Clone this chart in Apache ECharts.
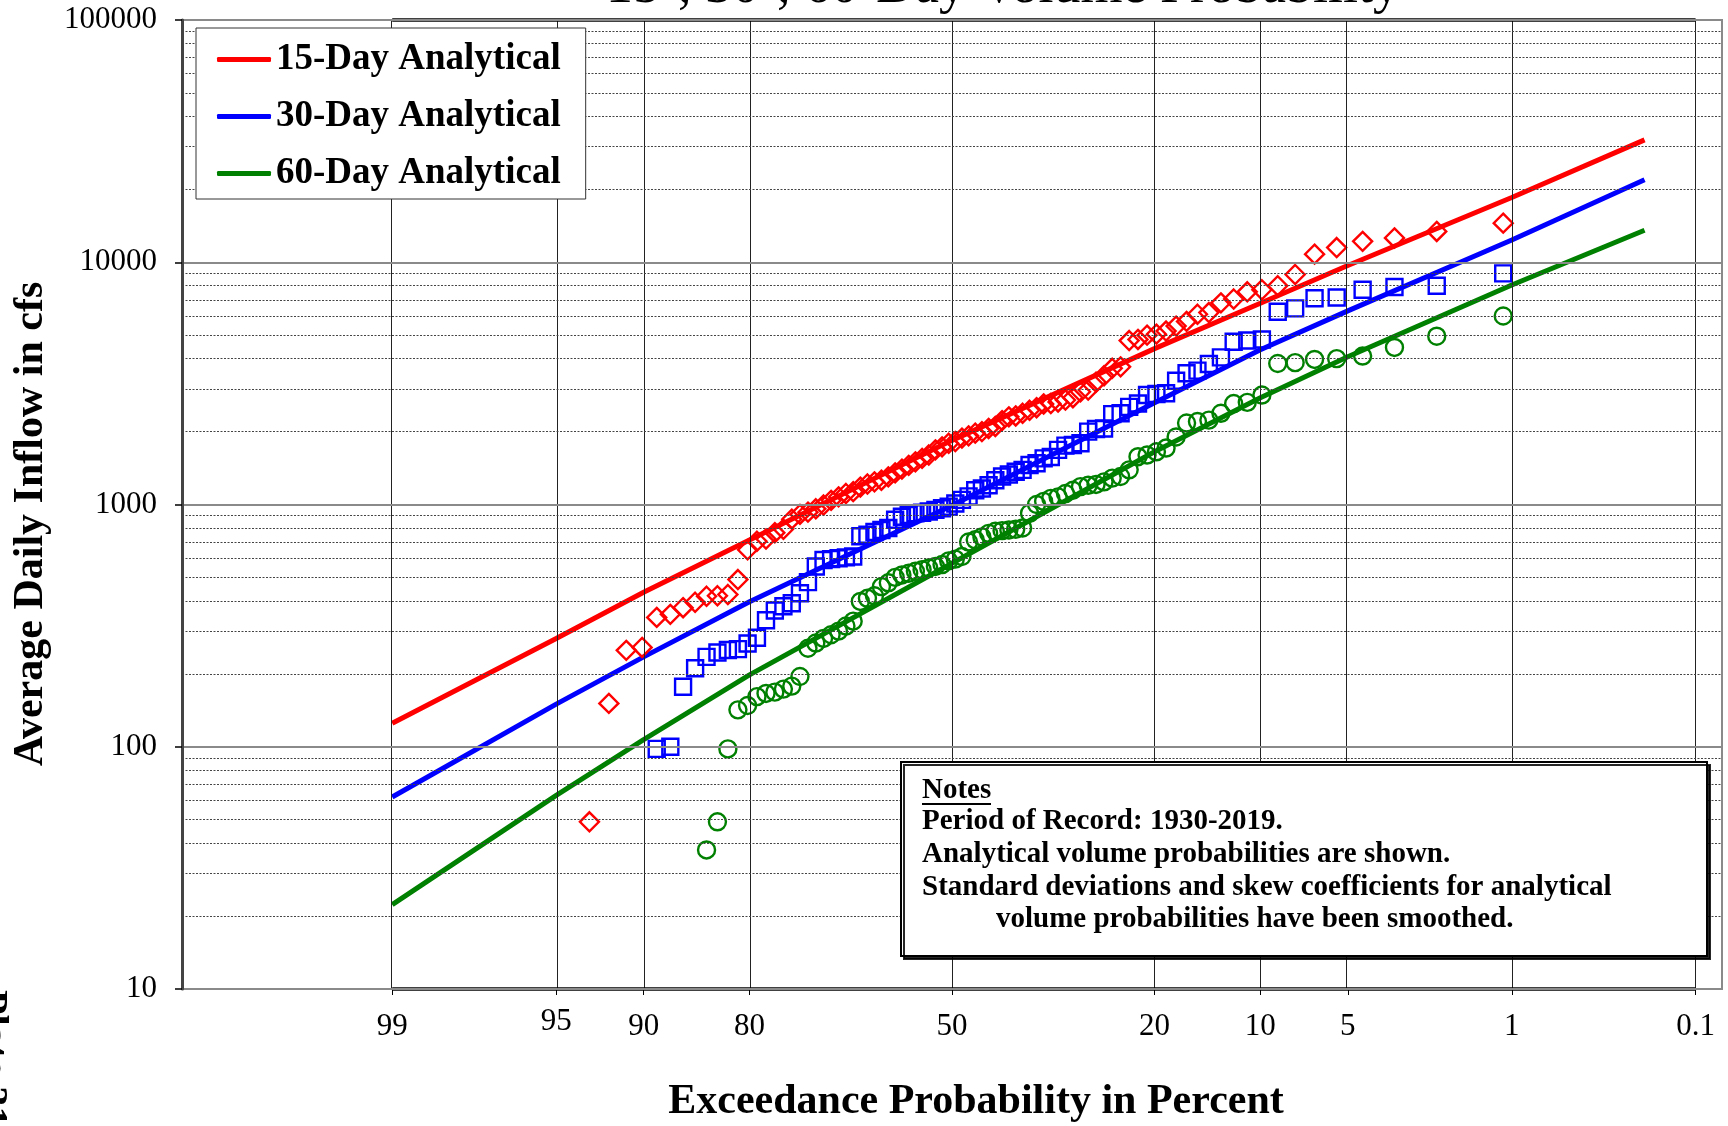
<!DOCTYPE html>
<html>
<head>
<meta charset="utf-8">
<script src="https://cdn.jsdelivr.net/npm/echarts@6/dist/echarts.min.js"></script>
<style>
html,body{margin:0;padding:0;background:#fff;}
#chart{width:1728px;height:1126px;}
</style>
</head>
<body>
<div id="chart"></div>
<script>
// ---------------- data ----------------
const titleText = '15-, 30-, 60-Day Volume Probability';
const xTitle = 'Exceedance Probability in Percent';
const yTitle = 'Average Daily Inflow in cfs';
const plateText = 'Plate 31';
const seriesNames = ['15-Day Analytical', '30-Day Analytical', '60-Day Analytical'];

// x tick labels (exceedance probability, percent)
const tickProbs = [99, 95, 90, 80, 50, 20, 10, 5, 1, 0.1];
const tickLabels = ['99', '95', '90', '80', '50', '20', '10', '5', '1', '0.1'];
// minor horizontal grid values
const minorGridValues = [20, 30, 40, 50, 60, 70, 80, 90, 200, 300, 400, 500, 600, 700, 800, 900,
  2000, 3000, 4000, 5000, 6000, 7000, 8000, 9000, 20000, 30000, 40000, 50000, 60000, 70000, 80000, 90000];

// period of record 1930-2019 -> 90 years (Weibull plotting positions m/(n+1))
const recordYears = 90;

// analytical frequency curves
const analyticProbs = [99, 95, 90, 80, 50, 20, 10, 5, 1, 0.2];
const analytic15 = [125, 280, 434, 714, 1840, 4400, 6770, 9700, 18500, 32000];
const analytic30 = [62, 150, 235, 397, 990, 2630, 4350, 6300, 12350, 21900];
const analytic60 = [22.3, 63, 107, 198, 572, 1650, 2760, 4070, 8060, 13550];

// observed volumes, ranked largest first (values below 10 cfs are off the chart)
const flow15 = [14500, 13400, 12600, 12200, 11500, 10800, 8900, 8000, 7700, 7550,
  7050, 6800, 6200, 6100, 5700, 5450, 5200, 5050, 5000, 4800,
  4750, 3700, 3650, 3400, 3200, 2970, 2920, 2760, 2700, 2650,
  2610, 2600, 2510, 2450, 2380, 2320, 2300, 2220, 2100, 2060,
  2000, 1970, 1920, 1880, 1820, 1790, 1730, 1680, 1600, 1550,
  1500, 1450, 1400, 1350, 1300, 1260, 1240, 1215, 1180, 1130,
  1110, 1075, 1040, 995, 960, 930, 910, 870, 790, 765,
  720, 705, 650, 490, 425, 420, 418, 395, 375, 352,
  342, 257, 250, 151, 49];
const flow30 = [9000, 8000, 7900, 7700, 7150, 7100, 6450, 6250, 4800, 4750,
  4700, 4050, 3800, 3570, 3480, 3240, 2880, 2860, 2830, 2610,
  2530, 2380, 2360, 2060, 2050, 2000, 1790, 1760, 1750, 1680,
  1570, 1550, 1480, 1455, 1390, 1365, 1330, 1305, 1260, 1200,
  1165, 1145, 1080, 1045, 1010, 980, 965, 950, 935, 925,
  920, 905, 890, 865, 800, 785, 770, 750, 740, 610,
  605, 600, 595, 590, 555, 478, 430, 391, 380, 365,
  333, 282, 267, 253, 251, 245, 235, 211, 177, 100,
  98];
const flow60 = [6000, 4950, 4450, 4100, 4000, 3970, 3850, 3820, 2830, 2640,
  2610, 2380, 2230, 2200, 2170, 1900, 1710, 1650, 1600, 1575,
  1390, 1305, 1285, 1240, 1210, 1200, 1185, 1145, 1110, 1075,
  1060, 1030, 1000, 920, 800, 790, 785, 780, 775, 760,
  735, 715, 700, 610, 595, 585, 565, 555, 547, 538,
  530, 520, 512, 500, 475, 458, 420, 410, 398, 330,
  315, 300, 290, 280, 268, 255, 195, 178, 173, 168,
  166, 161, 148, 142, 98, 49, 37.5];

const noteLines = [
  'Period of Record: 1930-2019.',
  'Analytical volume probabilities are shown.',
  'Standard deviations and skew coefficients for analytical'
];
const noteIndented = 'volume probabilities have been smoothed.';

// ---------------- helpers ----------------
function qnorm(p) {
  const a = [-3.969683028665376e+01, 2.209460984245205e+02, -2.759285104469687e+02, 1.383577518672690e+02, -3.066479806614716e+01, 2.506628277459239e+00];
  const b = [-5.447609879822406e+01, 1.615858368580409e+02, -1.556989798598866e+02, 6.680131188771972e+01, -1.328068155288572e+01];
  const c = [-7.784894002430293e-03, -3.223964580411365e-01, -2.400758277161838e+00, -2.549732539343734e+00, 4.374664141464968e+00, 2.938163982698783e+00];
  const d = [7.784695709041462e-03, 3.224671290700398e-01, 2.445134137142996e+00, 3.754408661907416e+00];
  const pl = 0.02425, ph = 1 - pl;
  let q, r;
  if (p < pl) {
    q = Math.sqrt(-2 * Math.log(p));
    return (((((c[0] * q + c[1]) * q + c[2]) * q + c[3]) * q + c[4]) * q + c[5]) / ((((d[0] * q + d[1]) * q + d[2]) * q + d[3]) * q + 1);
  }
  if (p <= ph) {
    q = p - 0.5; r = q * q;
    return (((((a[0] * r + a[1]) * r + a[2]) * r + a[3]) * r + a[4]) * r + a[5]) * q / (((((b[0] * r + b[1]) * r + b[2]) * r + b[3]) * r + b[4]) * r + 1);
  }
  q = Math.sqrt(-2 * Math.log(1 - p));
  return -(((((c[0] * q + c[1]) * q + c[2]) * q + c[3]) * q + c[4]) * q + c[5]) / ((((d[0] * q + d[1]) * q + d[2]) * q + d[3]) * q + 1);
}
// exceedance percent -> standard normal variate (probability-paper coordinate)
const zx = (pct) => qnorm(1 - pct / 100);
const tickZ = tickProbs.map(zx);
const rankPoints = (arr) => arr.map((v, i) => [zx(100 * (i + 1) / (recordYears + 1)), v]);
const curvePoints = (arr) => analyticProbs.map((p, i) => [zx(p), arr[i]]);

const SERIF = '"Liberation Serif", "Times New Roman", serif';
const colors = ['#ff0000', '#0000ff', '#008000'];

const chart = echarts.init(document.getElementById('chart'), null, {renderer: 'canvas'});

const lineSeries = [analytic15, analytic30, analytic60].map((arr, k) => ({
  name: seriesNames[k],
  type: 'line',
  data: curvePoints(arr),
  symbol: 'none',
  showSymbol: false,
  smooth: false,
  color: colors[k],
  lineStyle: {color: colors[k], width: 5},
  z: 3,
  silent: true
}));

const scatterStyles = [
  {symbol: 'diamond', size: 19},
  {symbol: 'rect', size: 16},
  {symbol: 'circle', size: 17}
];
const scatterSeries = [flow15, flow30, flow60].map((arr, k) => ({
  name: seriesNames[k] + ' observed',
  type: 'scatter',
  data: rankPoints(arr),
  symbol: scatterStyles[k].symbol,
  symbolSize: scatterStyles[k].size,
  itemStyle: {color: 'rgba(0,0,0,0)', borderColor: colors[k], borderWidth: 2.4, opacity: 1},
  z: 4,
  silent: true
}));

const gridSeries = {
  name: 'grid',
  type: 'line',
  data: [],
  z: 1,
  silent: true,
  markLine: {
    silent: true,
    symbol: ['none', 'none'],
    label: {show: false},
    animation: false,
    data: tickZ.map(z => ({xAxis: z, lineStyle: {color: '#222', width: 1, type: 'solid'}}))
      .concat(minorGridValues.map(v => ({yAxis: v, lineStyle: {color: '#444', width: 1, type: [2, 1.5]}})))
  }
};

const frameSeries = [10, 100000].map(v => ({
  name: 'frame' + v,
  type: 'line',
  data: [[zx(99), v], [zx(0.1), v]],
  symbol: 'none',
  clip: false,
  lineStyle: {color: '#000', width: 3.5},
  z: 6,
  silent: true
}));

const option = {
  backgroundColor: '#fff',
  animation: false,
  grid: {left: 182, right: 6, top: 20, bottom: 137, show: true, borderColor: '#8a8a8a', borderWidth: 2, backgroundColor: '#fff'},
  xAxis: {
    type: 'value', min: -3.2, max: 3.2,
    axisLine: {show: false, onZero: false},
    splitLine: {show: false},
    axisTick: {show: true, customValues: tickZ, length: 6, lineStyle: {color: '#000', width: 1}},
    axisLabel: {
      customValues: tickZ,
      margin: 17,
      formatter: function (v) {
        let idx = 0, best = 1e9;
        tickZ.forEach((t, i) => { const d = Math.abs(t - v); if (d < best) { best = d; idx = i; } });
        const lab = tickLabels[idx];
        return lab === '95' ? '{up|' + lab + '}' : '{n|' + lab + '}';
      },
      rich: {
        n: {fontFamily: SERIF, fontSize: 31, color: '#000', padding: [5, 0, 0, 0]},
        up: {fontFamily: SERIF, fontSize: 31, color: '#000', padding: [0, 0, 5, 0]}
      }
    }
  },
  yAxis: {
    type: 'log', logBase: 10, min: 10, max: 100000,
    axisLine: {show: true, onZero: false, lineStyle: {color: '#444', width: 3}},
    axisTick: {show: true, length: 7, lineStyle: {color: '#000', width: 1.5}},
    axisLabel: {fontFamily: SERIF, fontSize: 31, color: '#000', margin: 25,
      formatter: v => String(Math.round(v))},
    splitLine: {show: true, lineStyle: {color: '#8a8a8a', width: 2}},
    minorTick: {show: false},
    minorSplitLine: {show: false},
    z: 7
  },
  legend: {
    data: seriesNames.map(n => ({name: n, icon: 'roundRect'})),
    orient: 'vertical',
    left: 196, top: 28,
    padding: [13, 25, 7, 21],
    itemGap: 20,
    itemWidth: 54,
    itemHeight: 5,
    backgroundColor: '#fff',
    borderColor: '#333',
    borderWidth: 1,
    selectedMode: false,
    textStyle: {fontFamily: SERIF, fontWeight: 'bold', fontSize: 37, color: '#000', lineHeight: 37},
    z: 20
  },
  series: [gridSeries].concat(lineSeries, scatterSeries, frameSeries),
  graphic: [
    {type: 'text', x: 1003, y: -12, z: 50, silent: true,
      style: {text: titleText, font: '54px ' + SERIF, fill: '#000', align: 'center', verticalAlign: 'middle'}},
    {type: 'text', x: 976, y: 1102, z: 50, silent: true,
      style: {text: xTitle, font: 'bold 42px ' + SERIF, fill: '#000', align: 'center', verticalAlign: 'middle'}},
    {type: 'text', x: 31, y: 524, rotation: Math.PI / 2, z: 50, silent: true,
      style: {text: yTitle, font: 'bold 42px ' + SERIF, fill: '#000', align: 'center', verticalAlign: 'middle'}},
    {type: 'text', x: -9, y: 990, rotation: -Math.PI / 2, z: 50, silent: true,
      style: {text: plateText, font: 'bold 40px ' + SERIF, fill: '#000', align: 'left', verticalAlign: 'middle'}},
    {type: 'rect', z: 40, silent: true,
      shape: {x: 901, y: 762, width: 806, height: 194},
      style: {fill: '#fff', stroke: '#000', lineWidth: 2, shadowColor: 'rgba(0,0,0,0.85)', shadowOffsetX: 3, shadowOffsetY: 3, shadowBlur: 0}},
    {type: 'text', x: 922, y: 791, z: 41, silent: true,
      style: {text: 'Notes', font: 'bold 29px ' + SERIF, fill: '#000', align: 'left', verticalAlign: 'middle'}},
    {type: 'line', z: 41, silent: true,
      shape: {x1: 922, y1: 804, x2: 991, y2: 804}, style: {stroke: '#000', lineWidth: 2}},
    {type: 'text', x: 922, y: 822, z: 41, silent: true,
      style: {text: noteLines[0], font: 'bold 29px ' + SERIF, fill: '#000', align: 'left', verticalAlign: 'middle'}},
    {type: 'text', x: 922, y: 855, z: 41, silent: true,
      style: {text: noteLines[1], font: 'bold 29px ' + SERIF, fill: '#000', align: 'left', verticalAlign: 'middle'}},
    {type: 'text', x: 922, y: 888, z: 41, silent: true,
      style: {text: noteLines[2], font: 'bold 29px ' + SERIF, fill: '#000', align: 'left', verticalAlign: 'middle'}},
    {type: 'text', x: 996, y: 920, z: 41, silent: true,
      style: {text: noteIndented, font: 'bold 29px ' + SERIF, fill: '#000', align: 'left', verticalAlign: 'middle'}}
  ]
};
chart.setOption(option);
</script>
</body>
</html>
